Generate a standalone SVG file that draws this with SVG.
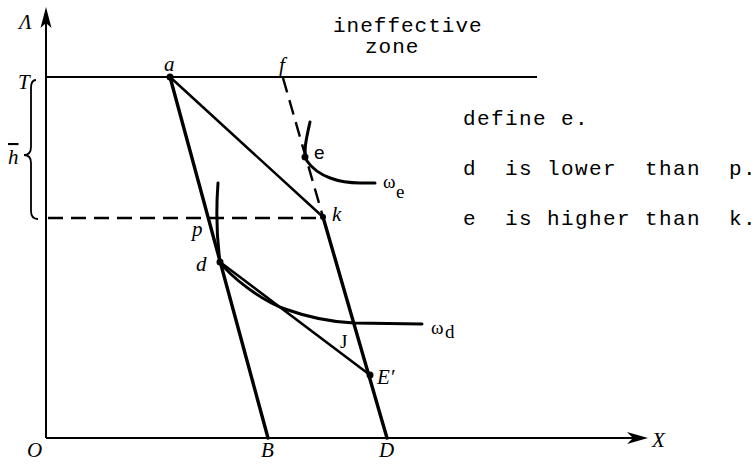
<svg xmlns="http://www.w3.org/2000/svg" width="756" height="464" viewBox="0 0 756 464">
<style>
.ax{stroke:#000;stroke-width:2;fill:none}
.thin{stroke:#000;stroke-width:1.8;fill:none}
.thick{stroke:#000;stroke-width:3.4;fill:none;stroke-linecap:round}
.mid{stroke:#000;stroke-width:2.5;fill:none;stroke-linecap:round}
.dash{stroke:#000;stroke-width:2.4;fill:none;stroke-dasharray:15 8}
.curve{stroke:#000;stroke-width:3;fill:none;stroke-linecap:round}
.dot{fill:#000}
.it{font-family:"Liberation Serif",serif;font-style:italic;font-size:21px;fill:#000}
.rm{font-family:"Liberation Serif",serif;font-size:19px;fill:#000}
.mono{font-family:"Liberation Mono",monospace;font-size:21px;letter-spacing:1.4px;fill:#000}
</style>
<g id="axes">
  <line class="ax" x1="46" y1="438" x2="46" y2="14"/>
  <path class="dot" d="M46,7 L40.5,28 L46,23 L51.5,28 Z"/>
  <line class="ax" x1="46" y1="438" x2="642" y2="438"/>
  <path class="dot" d="M648,438 L627,432 L633,438 L627,444 Z"/>
  <text class="it" x="19" y="29" font-size="19">Λ</text>
  <text class="it" x="27" y="457" font-size="20">O</text>
  <text class="it" x="652" y="447">X</text>
</g>
<g id="connectors">
  <line class="thin" x1="47" y1="77" x2="537" y2="77"/>
  <line class="dash" x1="48" y1="218" x2="323" y2="218"/>
  <line class="dash" x1="283" y1="78" x2="323" y2="217"/>
  <line class="thick" x1="170" y1="77" x2="268" y2="438"/>
  <line class="thick" x1="323" y1="217" x2="387" y2="438"/>
  <line class="mid" x1="170" y1="77" x2="323" y2="217"/>
  <line class="mid" x1="220" y1="262" x2="370" y2="375"/>
  <path class="thin" d="M36,80 Q31,80 31,88 L31,147 Q31,155 24,155 Q31,155 31,163 L31,211 Q31,219 38,219"/>
</g>
<g id="curve-we">
  <path class="curve" d="M310,122 C306,140 303,152 307,161 C318,177 340,183 360,183 L375,183"/>
  <text class="rm" x="383" y="188">ω</text>
  <text class="rm" x="396" y="198" font-size="18">e</text>
</g>
<g id="curve-wd">
  <path class="curve" d="M218,183 C216,210 217,240 220,262 C230,276 260,300 285,309 C310,318 330,322 354,323 L422,324"/>
  <text class="rm" x="431" y="334">ω</text>
  <text class="rm" x="445" y="338" font-size="18">d</text>
</g>
<g id="node-T"><text class="it" x="18" y="89">T</text></g>
<g id="node-h"><text class="it" x="8" y="164" style="text-decoration:overline">h</text></g>
<g id="node-a"><circle class="dot" cx="170" cy="77" r="3.5"/><text class="it" x="164" y="71">a</text></g>
<g id="node-f"><text class="it" x="279" y="72">f</text></g>
<g id="node-e"><circle class="dot" cx="305" cy="157" r="3.5"/><text x="314" y="159" font-family="Liberation Sans, sans-serif" font-size="19">e</text></g>
<g id="node-k"><circle class="dot" cx="323" cy="217" r="3"/><text class="it" x="332" y="221">k</text></g>
<g id="node-p"><text class="it" x="192" y="236">p</text></g>
<g id="node-d"><circle class="dot" cx="220" cy="262" r="3.5"/><text class="it" x="196" y="271">d</text></g>
<g id="node-J"><text class="rm" x="340" y="348">J</text></g>
<g id="node-E"><circle class="dot" cx="370" cy="375" r="3.5"/><text class="it" x="377" y="384">E′</text></g>
<g id="node-B"><text class="it" x="261" y="457" font-size="20">B</text></g>
<g id="node-D"><text class="it" x="379" y="457" font-size="20">D</text></g>
<g id="notes">
  <text class="mono" x="333" y="32" font-size="20" style="letter-spacing:1px">ineffective</text>
  <text class="mono" x="365" y="53" font-size="20" style="letter-spacing:1px">zone</text>
  <text class="mono" x="463" y="125" xml:space="preserve">define e.</text>
  <text class="mono" x="463" y="175" xml:space="preserve">d  is lower  than  p.</text>
  <text class="mono" x="463" y="225" xml:space="preserve">e  is higher than  k.</text>
</g>
</svg>
